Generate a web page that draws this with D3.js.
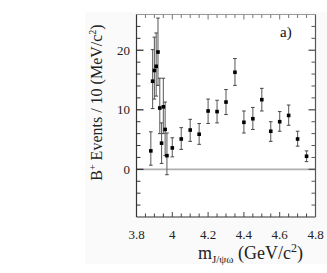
<!DOCTYPE html>
<html><head><meta charset="utf-8">
<script src="https://cdn.jsdelivr.net/npm/d3@7"></script>
<style>body{margin:0;background:#fff}svg{display:block}</style>
</head><body>
<svg id="c" width="327" height="273"></svg>
<script>
const mass = [3.88,3.89,3.90,3.91,3.92,3.93,3.94,3.95,3.96,3.97,
  4.00,4.05,4.10,4.15,4.20,4.25,4.30,4.35,4.40,4.45,4.50,4.55,4.60,4.65,4.70,4.75];
const events = [3.1,14.8,16.6,17.3,19.7,10.3,4.4,10.5,6.7,2.3,
  3.6,5.1,6.6,5.9,9.8,9.7,11.3,16.3,7.9,8.5,11.7,6.4,8.0,9.05,5.1,2.2];
const errHi = [6.3,20.1,22.2,22.9,25.4,15.3,7.8,15.3,11.3,6.1,
  5.3,7.0,8.4,7.7,11.8,11.6,13.4,18.6,9.8,10.4,13.6,8.0,9.7,10.8,6.4,3.1];
const errLo = [0.7,10.2,11.8,12.3,14.1,6.0,1.0,6.0,2.3,-0.9,
  2.1,3.35,4.7,4.2,7.7,7.8,9.2,14.1,6.1,6.7,9.8,4.7,6.4,7.4,3.9,1.3];
const xTicks = [3.8,4.0,4.2,4.4,4.6,4.8];
const xTickLabels = ["3.8","4","4.2","4.4","4.6","4.8"];
const yTicks = [0,10,20];

const svg = d3.select("#c");
const L=136.5, R=315.5, T=14.5, B=217;
const x = d3.scaleLinear().domain([3.8,4.8]).range([L,R]);
const y = d3.scaleLinear().domain([-8,26]).range([B,T]);
const font = "'Liberation Serif','Times New Roman',serif";

svg.append("rect").attr("x",85).attr("y",12).attr("width",242).attr("height",252).attr("fill","#fafafa");
svg.append("rect").attr("x",L).attr("y",T).attr("width",R-L).attr("height",B-T).attr("fill","#fff");

// zero line
svg.append("line").attr("x1",L).attr("x2",R).attr("y1",y(0)).attr("y2",y(0))
  .attr("stroke","#b0b0b0").attr("stroke-width",1.6);

// frame
const g = svg.append("g");
g.append("line").attr("x1",L).attr("x2",R).attr("y1",T).attr("y2",T).attr("stroke","#999").attr("stroke-width",1.2);
g.append("line").attr("x1",L).attr("x2",R).attr("y1",B).attr("y2",B).attr("stroke","#333").attr("stroke-width",1.2);
g.append("line").attr("x1",L).attr("x2",L).attr("y1",T).attr("y2",B).attr("stroke","#333").attr("stroke-width",1.2);
g.append("line").attr("x1",R).attr("x2",R).attr("y1",T).attr("y2",B).attr("stroke","#555").attr("stroke-width",1.2);

// x ticks (minor every 0.05)
const xMinor = d3.range(3.85,4.8,0.05);
xMinor.forEach(v=>{
  const isMaj = Math.abs(Math.round(v*5)-v*5)<1e-6;
  const len = isMaj?5:3.5;
  g.append("line").attr("x1",x(v)).attr("x2",x(v)).attr("y1",B).attr("y2",B-len).attr("stroke","#444").attr("stroke-width",1);
  g.append("line").attr("x1",x(v)).attr("x2",x(v)).attr("y1",T).attr("y2",T+len).attr("stroke","#777").attr("stroke-width",1);
});
// y ticks (minor every 2)
d3.range(-6,26,2).forEach(v=>{
  const isMaj = v%10===0;
  const len = isMaj?7:4;
  g.append("line").attr("x1",L).attr("x2",L+len).attr("y1",y(v)).attr("y2",y(v)).attr("stroke","#333").attr("stroke-width",isMaj?1.3:1);
  g.append("line").attr("x1",R).attr("x2",R-len).attr("y1",y(v)).attr("y2",y(v)).attr("stroke","#555").attr("stroke-width",isMaj?1.3:1);
});

// tick labels
svg.selectAll(".xl").data(xTicks).enter().append("text")
  .attr("x",d=>x(d)).attr("y",239).attr("text-anchor","middle")
  .attr("font-family",font).attr("font-size",13).attr("fill","#222")
  .text((d,i)=>xTickLabels[i]);
svg.selectAll(".yl").data(yTicks).enter().append("text")
  .attr("x",130).attr("y",d=>y(d)+4.5).attr("text-anchor","end")
  .attr("font-family",font).attr("font-size",13).attr("fill","#222")
  .text(d=>d);

// error bars
const pts = mass.map((m,i)=>({m,v:events[i],hi:errHi[i],lo:errLo[i]}));
const eb = svg.append("g");
pts.forEach(p=>{
  eb.append("line").attr("x1",x(p.m)).attr("x2",x(p.m)).attr("y1",y(p.hi)).attr("y2",y(p.lo))
    .attr("stroke","#666").attr("stroke-width",1.1);
  [p.hi,p.lo].forEach(e=>eb.append("line").attr("x1",x(p.m)-1.8).attr("x2",x(p.m)+1.8)
    .attr("y1",y(e)).attr("y2",y(e)).attr("stroke","#444").attr("stroke-width",1));
});
svg.selectAll(".pt").data(pts).enter().append("rect")
  .attr("x",d=>x(d.m)-1.8).attr("y",d=>y(d.v)-1.8).attr("width",3.6).attr("height",3.6)
  .attr("fill","#000");

// labels
svg.append("text").attr("x",280).attr("y",37).attr("font-family",font).attr("font-size",15).attr("fill","#111").text("a)");

const yl = svg.append("text").attr("transform","translate(102,102.5) rotate(-90)")
  .attr("text-anchor","middle").attr("font-family",font).attr("font-size",16).attr("fill","#222");
yl.append("tspan").text("B");
yl.append("tspan").attr("dy",-6).attr("font-size",10).text("+");
yl.append("tspan").attr("dy",6).text(" Events / 10 (MeV/c");
yl.append("tspan").attr("dy",-6).attr("font-size",10).text("2");
yl.append("tspan").attr("dy",6).text(")");

const xl = svg.append("text").attr("x",250.5).attr("y",259)
  .attr("text-anchor","middle").attr("font-family",font).attr("font-size",18).attr("fill","#222");
xl.append("tspan").text("m");
xl.append("tspan").attr("dy",4).attr("font-size",11).text("J/ψω");
xl.append("tspan").attr("dy",-4).text(" (GeV/c");
xl.append("tspan").attr("dy",-7).attr("font-size",12).text("2");
xl.append("tspan").attr("dy",7).text(")");
</script>
</body></html>
